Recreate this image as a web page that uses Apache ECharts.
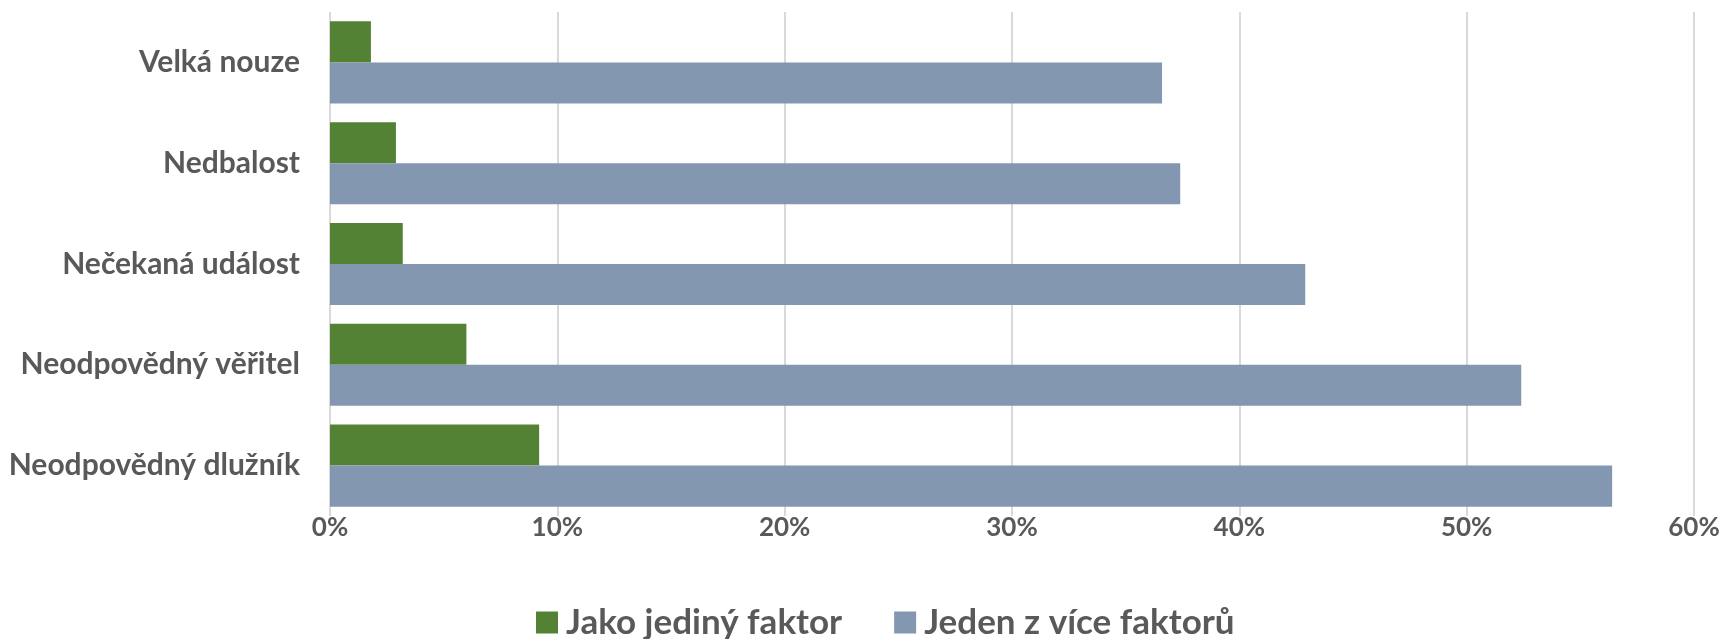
<!DOCTYPE html>
<html>
<head>
<meta charset="utf-8">
<script src="https://cdn.jsdelivr.net/npm/echarts@6/dist/echarts.min.js"></script>
<style>html,body{margin:0;padding:0;background:#fff}#c{width:1727px;height:639px}</style>
</head>
<body>
<div id="c"></div>
<script>
const categories = ["Velká nouze", "Nedbalost", "Nečekaná událost", "Neodpovědný věřitel", "Neodpovědný dlužník"];
const seriesNames = ["Jako jediný faktor", "Jeden z více faktorů"];
const singleFactor = [1.8, 2.9, 3.2, 6.0, 9.2];
const multiFactor = [36.6, 37.4, 42.9, 52.4, 56.4];
const xTicks = [0, 10, 20, 30, 40, 50, 60];

const chart = echarts.init(document.getElementById('c'));
const txt = '#595959';
const font = 'Lato';
chart.setOption({
  animation: false,
  grid: { left: 330, right: 33, top: 12, bottom: 123 },
  legend: {
    top: 600, left: 531,
    itemWidth: 22, itemHeight: 22, itemGap: 52,
    icon: 'rect',
    textStyle: { color: txt, fontSize: 35, fontWeight: 'bold', fontFamily: font, padding: [0, 0, 0, 3] },
    data: seriesNames
  },
  xAxis: {
    type: 'value', min: xTicks[0], max: xTicks[xTicks.length - 1], interval: 10,
    axisLine: { show: false }, axisTick: { show: false },
    splitLine: { lineStyle: { color: '#d9d9d9', width: 2 } },
    axisLabel: { color: txt, fontSize: 26, fontWeight: 'bold', fontFamily: font, margin: -1, formatter: v => v + '%' }
  },
  yAxis: {
    type: 'category', data: categories, inverse: true,
    axisLine: { show: false }, axisTick: { show: false },
    axisLabel: { color: txt, fontSize: 30, fontWeight: 'bold', fontFamily: font, margin: 30 }
  },
  series: [
    { name: seriesNames[0], type: 'bar', data: singleFactor, barGap: '0%', barCategoryGap: '18.6%',
      itemStyle: { color: '#548235' } },
    { name: seriesNames[1], type: 'bar', data: multiFactor, barGap: '0%', barCategoryGap: '18.6%',
      itemStyle: { color: '#8497b0' } }
  ]
});
</script>
</body>
</html>
